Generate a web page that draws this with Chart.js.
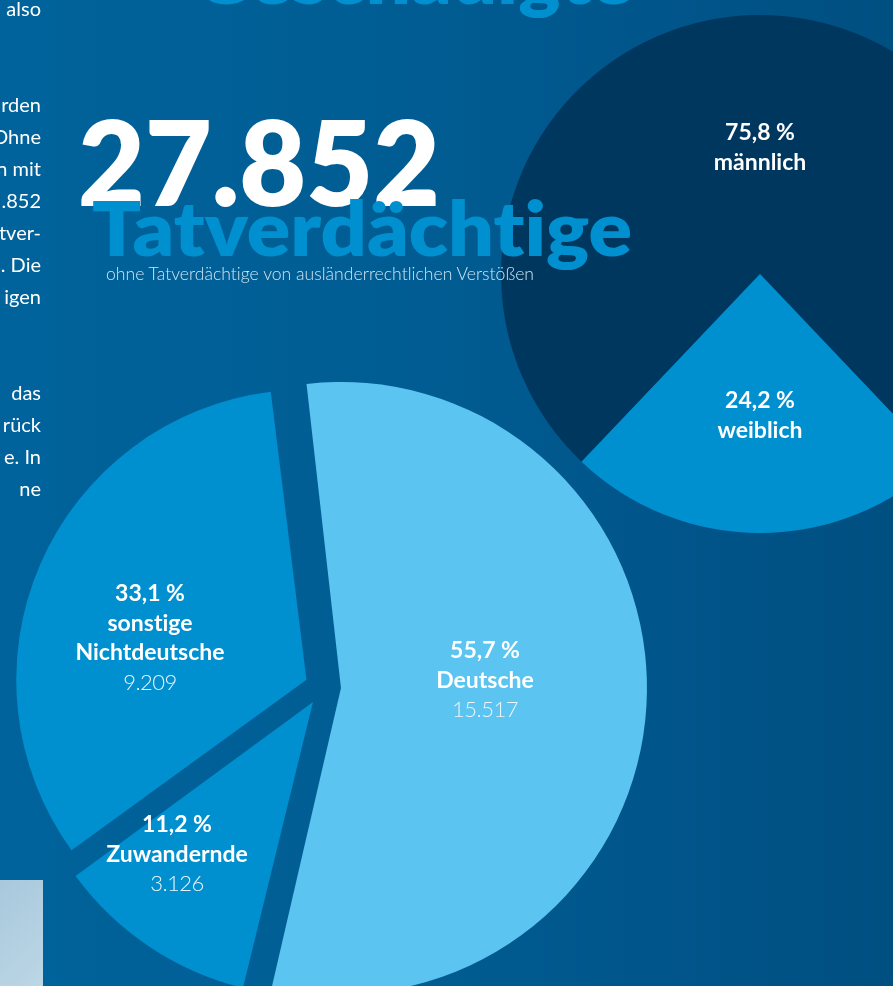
<!DOCTYPE html>
<html><head><meta charset="utf-8">
<script src="https://cdn.jsdelivr.net/npm/chart.js@4.4.1/dist/chart.umd.min.js"></script>
<style>
html,body{margin:0;padding:0;}
body{width:893px;height:986px;overflow:hidden;position:relative;
 background:linear-gradient(90deg,#00639b 0%,#005d93 45%,#00558a 75%,#004f81 100%);
 font-family:Lato,"Noto Sans",sans-serif;color:#fff;font-variant-ligatures:none;}
canvas{position:absolute;}
.t{position:absolute;white-space:nowrap;line-height:1;transform-origin:0 0;}
.big{font-weight:800;}
.col{position:absolute;left:0;width:41px;text-align:right;font-size:20px;line-height:32px;height:32px;white-space:nowrap;direction:rtl;overflow:visible;}
.col span{direction:ltr;unicode-bidi:embed;}
.lab{position:absolute;width:240px;margin-left:-120px;text-align:center;font-size:23px;line-height:29.5px;font-weight:700;white-space:nowrap;}
.lab .n{font-weight:300;color:#eaf5fc;font-size:22px;letter-spacing:-0.5px;}
#panel{position:absolute;left:0;top:880px;width:43px;height:106px;background:linear-gradient(135deg,#a8c8dc,#bcd7e6);}
</style></head>
<body>
<canvas id="c1" width="560" height="560" style="left:480px;top:-6px"></canvas>
<canvas id="c2" width="680" height="680" style="left:-17px;top:347px"></canvas>

<div class="t big" id="head" data-w="440" style="left:193px;top:-62px;font-size:75px;color:#008fcf">Geschädigte</div>
<div id="leftcol"></div>
<div id="panel"></div>
<div class="t big" id="total" data-w="362" style="left:78px;top:102px;font-size:118px;color:#fff"></div>
<div class="t big" id="word" data-w="540" style="left:92px;top:190px;font-size:75px;color:#008fcf">Tatverdächtige</div>
<div class="t" id="sub" data-w="428" style="left:106px;top:265px;font-size:17px;font-weight:300;color:#cfe5f3">ohne Tatverdächtige von ausländerrechtlichen Verstößen</div>
<div id="labels"></div>

<script>
// ---- data ----
const totalSuspects = '27.852';
const genderLabels = ['männlich', 'weiblich'];
const genderValues = [75.8, 24.2];
const genderPct = ['75,8 %', '24,2 %'];

const originLabels = ['Deutsche', 'Zuwandernde', 'sonstige Nichtdeutsche'];
const originLines  = [['Deutsche'], ['Zuwandernde'], ['sonstige', 'Nichtdeutsche']];
const originValues = [15517, 3126, 9209];
const originPct    = ['55,7 %', '11,2 %', '33,1 %'];
const originCounts = ['15.517', '3.126', '9.209'];

const leftFragments = ['also', '', '', 'rden', 'Ohne', 'n mit', '.852', 'tver-', '. Die', 'igen', '', '', 'das', 'rück', 'e. In', 'ne'];

// ---- layout (positions only) ----
const genderPos = [[760, 117], [760, 385]];
const originPos = [[485, 635], [177, 809], [150, 578]];

document.getElementById('total').textContent = totalSuspects;

const lc = document.getElementById('leftcol');
leftFragments.forEach((s, i) => {
  if (!s) return;
  const d = document.createElement('div');
  d.className = 'col';
  d.style.top = (i * 32 - 8) + 'px';
  d.innerHTML = '<span></span>';
  d.firstChild.textContent = s;
  lc.appendChild(d);
});

const lb = document.getElementById('labels');
function addLabel(x, y, lines, num) {
  const d = document.createElement('div');
  d.className = 'lab';
  d.style.left = x + 'px';
  d.style.top = y + 'px';
  lines.forEach(l => { const e = document.createElement('div'); e.textContent = l; d.appendChild(e); });
  if (num) { const e = document.createElement('div'); e.className = 'n'; e.textContent = num; d.appendChild(e); }
  lb.appendChild(d);
}
genderLabels.forEach((l, i) => addLabel(genderPos[i][0], genderPos[i][1], [genderPct[i], l]));
originLabels.forEach((l, i) => addLabel(originPos[i][0], originPos[i][1], [originPct[i], ...originLines[i]], originCounts[i]));

function fitAll() {
  document.querySelectorAll('[data-w]').forEach(el => {
    el.style.transform = 'none';
    const w = el.getBoundingClientRect().width;
    if (w > 0) el.style.transform = 'scaleX(' + (+el.dataset.w / w) + ')';
  });
}
fitAll();
if (document.fonts && document.fonts.ready) document.fonts.ready.then(fitAll);

const common = {
  responsive: false, animation: false, devicePixelRatio: 1, events: [],
  layout: { padding: 0 },
  plugins: { legend: { display: false }, tooltip: { enabled: false }, title: { display: false } }
};

const gSum = genderValues.reduce((a, b) => a + b, 0);
new Chart(document.getElementById('c1'), {
  type: 'pie',
  data: { labels: genderLabels, datasets: [{ data: genderValues, backgroundColor: ['#00375f', '#008fcf'], borderWidth: 0, hoverOffset: 0 }] },
  options: Object.assign({}, common, { rotation: 180 + genderValues[1] / gSum * 180, radius: 259 })
});

// Chart.js translates an arc by offset/4 px (72 -> 18 px explosion) and
// enlarges wide arcs by up to the same amount.
new Chart(document.getElementById('c2'), {
  type: 'pie',
  data: { labels: originLabels, datasets: [{ data: originValues, backgroundColor: ['#5bc4f1', '#008fcf', '#008fcf'], borderWidth: 0, offset: 72, hoverOffset: 0 }] },
  options: Object.assign({}, common, { rotation: -7, radius: 288 })
});
</script>
</body></html>
